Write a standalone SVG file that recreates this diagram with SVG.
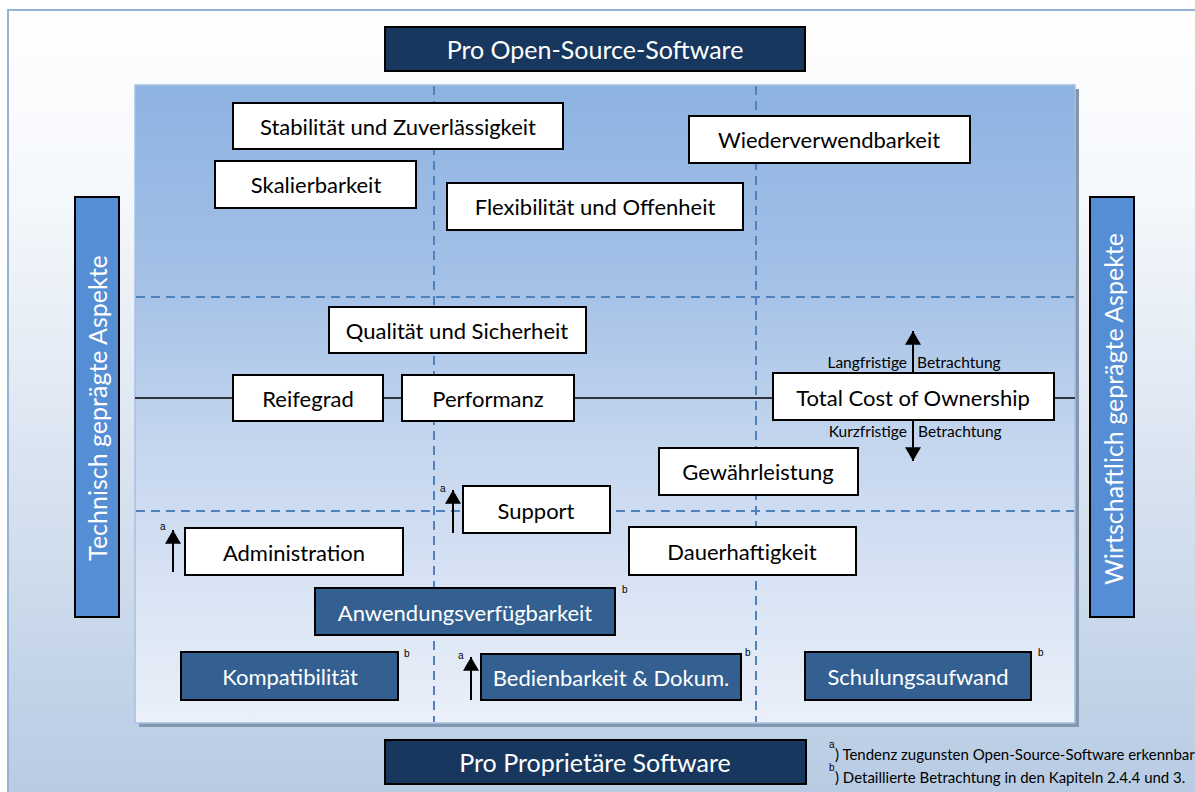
<svg xmlns="http://www.w3.org/2000/svg" width="1195" height="792" viewBox="0 0 1195 792">
  <defs>
    <linearGradient id="bgGrad" x1="0" y1="0" x2="0" y2="1">
      <stop offset="0" stop-color="#ffffff"/>
      <stop offset="0.25" stop-color="#f4f7fb"/>
      <stop offset="1" stop-color="#b7cbe3"/>
    </linearGradient>
    <linearGradient id="panelGrad" x1="0" y1="0" x2="0" y2="1">
      <stop offset="0" stop-color="#8db3e2"/>
      <stop offset="0.3" stop-color="#a3c0e6"/>
      <stop offset="0.55" stop-color="#c3d5ee"/>
      <stop offset="1" stop-color="#ebf0f9"/>
    </linearGradient>
    <marker id="bigHead" viewBox="0 0 12 14" refX="12" refY="7" markerWidth="14" markerHeight="16" markerUnits="userSpaceOnUse" orient="auto">
      <path d="M0,0 L12,7 L0,14 z" fill="#000"/>
    </marker>
  </defs>
  <style>
    .lbl { font-family: "Lato", "Liberation Sans", sans-serif; font-size: 22px; fill: #000; text-anchor: middle; dominant-baseline: central; }
    .lblw { font-family: "Lato", "Liberation Sans", sans-serif; font-size: 22px; fill: #fff; text-anchor: middle; dominant-baseline: central; }
    .hdr { font-size: 25px; }
    .small { font-family: "Lato", "Liberation Sans", sans-serif; font-size: 15.5px; fill: #000; dominant-baseline: central; }
    .sup { font-family: "Liberation Sans", sans-serif; font-size: 10px; fill: #000; }
    .note { font-family: "Lato", "Liberation Sans", sans-serif; font-size: 15px; fill: #000; }
    .white { fill: #fff; stroke: #000; stroke-width: 2; }
    .mid { fill: #335f91; stroke: #000; stroke-width: 2; }
    .navy { fill: #17375e; stroke: #000; stroke-width: 2; }
    .side { fill: #558ed5; stroke: #000; stroke-width: 2; }
    .dash { stroke: #4f81bd; stroke-width: 2; stroke-dasharray: 9 6; fill: none; }
    .arr { stroke: #000; stroke-width: 2; marker-end: url(#bigHead); }
  </style>

  <!-- background frame -->
  <rect x="8" y="10" width="1190" height="790" fill="url(#bgGrad)" stroke="#95b3d7" stroke-width="2"/>

  <!-- central panel with shadow -->
  <rect x="139" y="89" width="940" height="638" fill="#8497b0"/>
  <rect x="135" y="85" width="940" height="638" fill="url(#panelGrad)" stroke="#a7c0e0" stroke-width="1.5"/>

  <!-- grid -->
  <g id="grid">
    <line class="dash" x1="434" y1="86" x2="434" y2="722"/>
    <line class="dash" x1="756" y1="86" x2="756" y2="722"/>
    <line class="dash" x1="136" y1="297" x2="1074" y2="297"/>
    <line class="dash" x1="136" y1="511" x2="1074" y2="511"/>
  </g>

  <!-- connectors -->
  <g id="connectors">
    <line x1="135" y1="398" x2="1075" y2="398" stroke="#000" stroke-width="1.5"/>
    <line class="arr" x1="913" y1="373" x2="913" y2="331"/>
    <line class="arr" x1="913" y1="420" x2="913" y2="461"/>
    <line class="arr" x1="173" y1="572" x2="173" y2="530"/>
    <line class="arr" x1="453" y1="533" x2="453" y2="490"/>
    <line class="arr" x1="471" y1="700" x2="471" y2="657"/>
  </g>

  <!-- headers -->
  <g id="pro-oss">
    <rect class="navy" x="385" y="27" width="420" height="44"/>
    <text class="lblw hdr" x="595" y="49">Pro Open-Source-Software</text>
  </g>
  <g id="pro-proprietaer">
    <rect class="navy" x="385" y="740" width="421" height="44"/>
    <text class="lblw hdr" x="595" y="762">Pro Proprietäre Software</text>
  </g>
  <g id="technisch">
    <rect class="side" x="75" y="197" width="44" height="420"/>
    <text class="lblw hdr" transform="translate(97,408) rotate(-90)">Technisch geprägte Aspekte</text>
  </g>
  <g id="wirtschaftlich">
    <rect class="side" x="1090" y="197" width="44" height="420"/>
    <text class="lblw hdr" transform="translate(1113,409) rotate(-90)">Wirtschaftlich geprägte Aspekte</text>
  </g>

  <!-- criteria -->
  <g id="stabilitaet">
    <rect class="white" x="233" y="103" width="330" height="46"/>
    <text class="lbl" x="398" y="126">Stabilität und Zuverlässigkeit</text>
  </g>
  <g id="skalierbarkeit">
    <rect class="white" x="215" y="161" width="201" height="47"/>
    <text class="lbl" x="316" y="184">Skalierbarkeit</text>
  </g>
  <g id="wiederverwendbarkeit">
    <rect class="white" x="689" y="116" width="281" height="47"/>
    <text class="lbl" x="829" y="139">Wiederverwendbarkeit</text>
  </g>
  <g id="flexibilitaet">
    <rect class="white" x="447" y="183" width="296" height="47"/>
    <text class="lbl" x="595" y="206">Flexibilität und Offenheit</text>
  </g>
  <g id="qualitaet">
    <rect class="white" x="329" y="307" width="257" height="46"/>
    <text class="lbl" x="457" y="330">Qualität und Sicherheit</text>
  </g>
  <g id="reifegrad">
    <rect class="white" x="233" y="375" width="150" height="46"/>
    <text class="lbl" x="308" y="398">Reifegrad</text>
  </g>
  <g id="performanz">
    <rect class="white" x="402" y="375" width="172" height="46"/>
    <text class="lbl" x="488" y="398">Performanz</text>
  </g>
  <g id="tco">
    <rect class="white" x="773" y="373" width="281" height="47"/>
    <text class="lbl" x="913" y="397">Total Cost of Ownership</text>
    <text class="small" x="907" y="362" text-anchor="end">Langfristige</text>
    <text class="small" x="917" y="362">Betrachtung</text>
    <text class="small" x="907" y="431" text-anchor="end">Kurzfristige</text>
    <text class="small" x="918" y="431">Betrachtung</text>
  </g>
  <g id="gewaehrleistung">
    <rect class="white" x="659" y="448" width="199" height="47"/>
    <text class="lbl" x="758" y="471">Gewährleistung</text>
  </g>
  <g id="support">
    <rect class="white" x="463" y="486" width="147" height="47"/>
    <text class="lbl" x="536" y="510">Support</text>
    <text class="sup" x="440" y="492">a</text>
  </g>
  <g id="administration">
    <rect class="white" x="185" y="528" width="218" height="47"/>
    <text class="lbl" x="294" y="552">Administration</text>
    <text class="sup" x="160" y="530">a</text>
  </g>
  <g id="dauerhaftigkeit">
    <rect class="white" x="629" y="527" width="227" height="48"/>
    <text class="lbl" x="742" y="551">Dauerhaftigkeit</text>
  </g>
  <g id="anwendungsverfuegbarkeit">
    <rect class="mid" x="315" y="588" width="300" height="47"/>
    <text class="lblw" x="465" y="612">Anwendungsverfügbarkeit</text>
    <text class="sup" x="622" y="593">b</text>
  </g>
  <g id="kompatibilitaet">
    <rect class="mid" x="181" y="652" width="217" height="48"/>
    <text class="lblw" x="290" y="676">Kompatibilität</text>
    <text class="sup" x="404" y="657">b</text>
  </g>
  <g id="bedienbarkeit">
    <rect class="mid" x="481" y="654" width="260" height="46"/>
    <text class="lblw" x="611" y="677">Bedienbarkeit &amp; Dokum.</text>
    <text class="sup" x="458" y="659">a</text>
    <text class="sup" x="745" y="656">b</text>
  </g>
  <g id="schulungsaufwand">
    <rect class="mid" x="805" y="652" width="226" height="48"/>
    <text class="lblw" x="918" y="676">Schulungsaufwand</text>
    <text class="sup" x="1038" y="656">b</text>
  </g>

  <!-- footnotes -->
  <g id="footnotes">
    <text class="sup" x="829" y="748">a</text>
    <text class="note" x="835" y="760">) Tendenz zugunsten Open-Source-Software erkennbar</text>
    <text class="sup" x="829" y="771">b</text>
    <text class="note" x="835" y="783">) Detaillierte Betrachtung in den Kapiteln 2.4.4 und 3.</text>
  </g>
</svg>
